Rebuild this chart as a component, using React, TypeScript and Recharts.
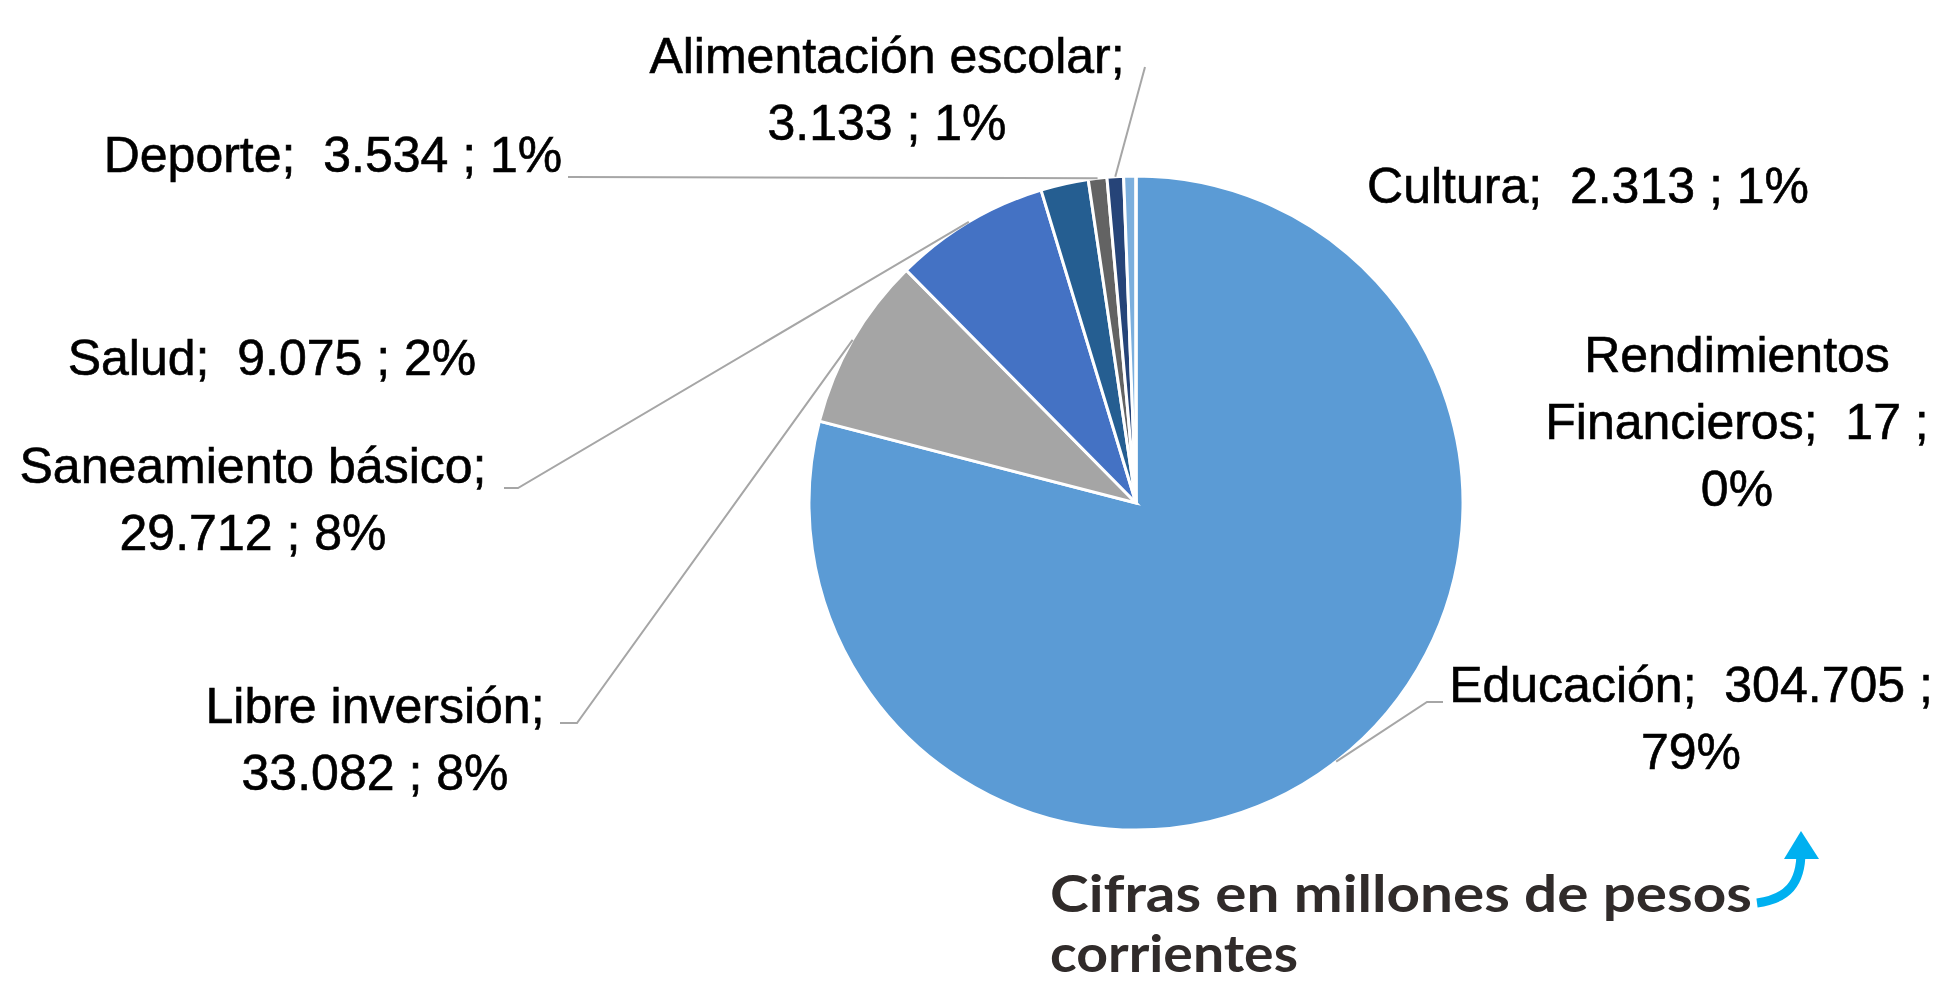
import React from 'react';
import { PieChart, Pie, Cell } from 'recharts';

// Presupuesto por sector (millones de pesos corrientes)
const CATEGORIES = [
  'Educación',
  'Libre inversión',
  'Saneamiento básico',
  'Salud',
  'Deporte',
  'Alimentación escolar',
  'Cultura',
  'Rendimientos Financieros',
];
const VALUES = [304705, 33082, 29712, 9075, 3534, 3133, 2313, 17];
const PERCENT_LABELS = ['79%', '8%', '8%', '2%', '1%', '1%', '1%', '0%'];

const COLORS = ['#5B9BD5', '#A5A5A5', '#4472C4', '#255E91', '#636363', '#264478', '#7CAFDD', '#F1975A'];

const chartData = CATEGORIES.map((name, i) => ({ name, value: VALUES[i] }));

const W = 1940;
const H = 984;
const CX = 1136;
const CY = 503;
const R = 327;
const RAD = Math.PI / 180;
const LINE_H = 67;

type Wrap = 'single' | 'name' | 'value';
// label placement, offsets from the pie centre (hand placed like the Excel original)
const LABEL_LAYOUT: { dx: number; dy: number; wrap: Wrap; leader?: number[][] }[] = [
  { dx: 555, dy: 199, wrap: 'value', leader: [[291, 199], [307, 199]] },
  { dx: -761, dy: 220, wrap: 'name', leader: [[-559, 220], [-576, 220]] },
  { dx: -883, dy: -20, wrap: 'name', leader: [[-618, -15], [-632, -15]] },
  { dx: -864, dy: -128, wrap: 'single' },
  { dx: -803, dy: -331, wrap: 'single', leader: [[-568, -326]] },
  { dx: -249, dy: -430, wrap: 'name', leader: [[9, -436]] },
  { dx: 452, dy: -300, wrap: 'single' },
  { dx: 601, dy: -131, wrap: 'value' },
];

const fmt = (v: number) => String(v).replace(/\B(?=(\d{3})+(?!\d))/g, '.');

function labelLines(i: number): string[] {
  const name = CATEGORIES[i];
  const v = fmt(VALUES[i]);
  const p = PERCENT_LABELS[i];
  switch (LABEL_LAYOUT[i].wrap) {
    case 'single':
      return [`${name};  ${v} ; ${p}`];
    case 'name':
      return [`${name};`, `${v} ; ${p}`];
    default: {
      const words = name.split(' ');
      const last = words.pop();
      return [...words, `${last};  ${v} ;`, p];
    }
  }
}

const renderLabel = (props: any) => {
  const { cx, cy, midAngle, outerRadius, index } = props;
  const lay = LABEL_LAYOUT[index];
  if (!lay) return null;
  const sx = cx + outerRadius * Math.cos(-midAngle * RAD);
  const sy = cy + outerRadius * Math.sin(-midAngle * RAD);
  const lines = labelLines(index);
  return (
    <g key={`lbl-${index}`}>
      {lay.leader && (
        <polyline
          points={[[sx, sy], ...lay.leader.map(([x, y]) => [cx + x, cy + y])].map((p) => p.join(',')).join(' ')}
          fill="none"
          stroke="#A6A6A6"
          strokeWidth={2}
        />
      )}
      <text
        x={cx + lay.dx}
        y={cy + lay.dy}
        textAnchor="middle"
        fill="#000"
        stroke="#000"
        strokeWidth={0.6}
        style={{ fontFamily: '"Liberation Sans", Arial, sans-serif', fontSize: 50, whiteSpace: 'pre' }}
      >
        {lines.map((ln, k) => (
          <tspan key={k} x={cx + lay.dx} dy={k === 0 ? 0 : LINE_H}>
            {ln}
          </tspan>
        ))}
      </text>
    </g>
  );
};

export default function App() {
  return (
    <div style={{ position: 'absolute', left: 0, top: 0, width: W, height: H, background: '#fff' }}>
      <PieChart width={W} height={H} margin={{ top: 0, right: 0, bottom: 0, left: 0 }}>
        <Pie
          data={chartData}
          dataKey="value"
          nameKey="name"
          cx={CX}
          cy={CY}
          outerRadius={R}
          startAngle={90}
          endAngle={-270}
          stroke="#fff"
          strokeWidth={3}
          label={renderLabel}
          labelLine={false}
          isAnimationActive={false}
        >
          {chartData.map((d, i) => (
            <Cell key={d.name} fill={COLORS[i]} />
          ))}
        </Pie>
      </PieChart>
      <svg width={W} height={H} style={{ position: 'absolute', left: 0, top: 0, pointerEvents: 'none' }}>
        <g fill="#302B2A" style={{ fontFamily: 'Lato, sans-serif', fontWeight: 700, fontSize: 51 }}>
          <text x={1050} y={912} textLength={702} lengthAdjust="spacingAndGlyphs">
            Cifras en millones de pesos
          </text>
          <text x={1050} y={972} textLength={248} lengthAdjust="spacingAndGlyphs">
            corrientes
          </text>
        </g>
        <path d="M1757 903 C1787 899 1801 884 1801 852" fill="none" stroke="#00B0F0" strokeWidth={9} />
        <polygon points="1801,831 1784,859 1819,859" fill="#00B0F0" />
      </svg>
    </div>
  );
}
